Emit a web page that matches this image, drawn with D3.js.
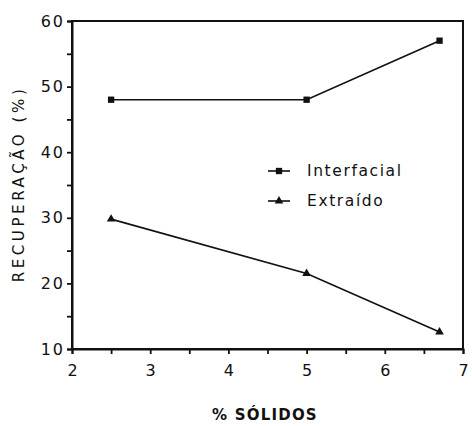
<!DOCTYPE html>
<html><head><meta charset="utf-8">
<script src="https://cdn.jsdelivr.net/npm/d3@7"></script>
<style>body{margin:0;background:#fff}svg{display:block}</style>
</head><body>
<svg id="c" width="472" height="426"></svg>
<script>
const xValues = [2.5, 5, 6.7];
const interfacial = [48, 48, 57];
const extraido = [29.8, 21.5, 12.6];
const seriesNames = ["Interfacial", "Extraído"];
const xTicks = [2, 3, 4, 5, 6, 7];
const yTicks = [10, 20, 30, 40, 50, 60];
const xLabel = "% SÓLIDOS";
const yLabel = "RECUPERAÇÃO (%)";

const svg = d3.select("#c");
const m = {l: 72, r: 9, t: 21, b: 77};
const W = 472, H = 426;
const x = d3.scaleLinear().domain([2, 7]).range([m.l, W - m.r]);
const y = d3.scaleLinear().domain([10, 60]).range([H - m.b, m.t]);
const font = "DejaVu Sans, sans-serif";

// frame
svg.append("rect").attr("x", x(2)).attr("y", y(60)).attr("width", x(7) - x(2)).attr("height", y(10) - y(60))
  .attr("fill", "none").attr("stroke", "#111").attr("stroke-width", 2);

// axes
const xAxis = d3.axisBottom(x).tickValues(d3.range(2, 7.01, 0.5)).tickSize(5)
  .tickFormat(d => xTicks.includes(d) ? d : "");
const gx = svg.append("g").attr("transform", `translate(0,${y(10)})`).call(xAxis);
gx.select(".domain").attr("stroke-width", 2).attr("stroke", "#111");
gx.selectAll(".tick line").attr("stroke-width", 1.8).attr("stroke", "#111");
gx.selectAll(".tick text").attr("font-family", font).attr("font-size", 16).attr("dy", "1.2em").attr("fill", "#111");

const yAxis = d3.axisLeft(y).tickValues(d3.range(10, 60.01, 5)).tickSize(5)
  .tickFormat(d => yTicks.includes(d) ? d : "");
const gy = svg.append("g").attr("transform", `translate(${x(2)},0)`).call(yAxis);
gy.select(".domain").attr("stroke-width", 2).attr("stroke", "#111");
gy.selectAll(".tick line").attr("stroke-width", 1.8).attr("stroke", "#111");
gy.selectAll(".tick text").attr("font-family", font).attr("font-size", 16).attr("letter-spacing", 2).attr("x", -7).attr("fill", "#111");

// lines
const line = d3.line().x(d => x(d[0])).y(d => y(d[1]));
const s1 = xValues.map((v, i) => [v, interfacial[i]]);
const s2 = xValues.map((v, i) => [v, extraido[i]]);
[s1, s2].forEach(s => svg.append("path").datum(s).attr("d", line).attr("fill", "none").attr("stroke", "#111").attr("stroke-width", 1.6));

const sq = d3.symbol().type(d3.symbolSquare).size(40);
const tri = d3.symbol().type(d3.symbolTriangle).size(32);
svg.selectAll(".m1").data(s1).join("path").attr("d", sq).attr("transform", d => `translate(${x(d[0])},${y(d[1])})`).attr("fill", "#111");
svg.selectAll(".m2").data(s2).join("path").attr("d", tri).attr("transform", d => `translate(${x(d[0])},${y(d[1])})`).attr("fill", "#111");

// legend
const lg = [{n: seriesNames[0], s: sq, y: 171}, {n: seriesNames[1], s: tri, y: 201}];
lg.forEach(d => {
  svg.append("line").attr("x1", 268).attr("x2", 290).attr("y1", d.y).attr("y2", d.y).attr("stroke", "#111").attr("stroke-width", 1.6);
  svg.append("path").attr("d", d.s).attr("transform", `translate(279,${d.y})`).attr("fill", "#111");
  svg.append("text").attr("x", 307).attr("y", d.y).attr("dy", "0.35em").attr("font-family", font).attr("font-size", 15.5)
    .attr("letter-spacing", 1.6).attr("fill", "#111").text(d.n);
});

// axis labels
svg.append("text").attr("x", 265).attr("y", 420).attr("text-anchor", "middle").attr("font-family", font)
  .attr("font-size", 15).attr("font-weight", "bold").attr("letter-spacing", 1.2).attr("fill", "#111").text(xLabel);
svg.append("text").attr("transform", "translate(24,184) rotate(-90)").attr("text-anchor", "middle").attr("font-family", font)
  .attr("font-size", 15).attr("letter-spacing", 3.6).attr("fill", "#111").text(yLabel);
</script>
</body></html>
